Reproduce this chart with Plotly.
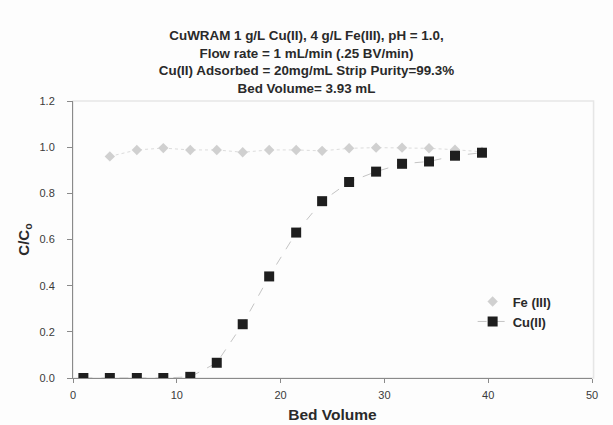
import plotly.graph_objects as go

# Bed volumes sampled (BV) and normalised effluent concentrations C/Co
cu_bv = [1.0, 3.55, 6.15, 8.7, 11.3, 13.85, 16.35, 18.9, 21.5, 24.0, 26.6, 29.2, 31.7, 34.3, 36.8, 39.4]
cu_c = [0.0, 0.0, 0.0, 0.0, 0.005, 0.066, 0.233, 0.44, 0.63, 0.766, 0.849, 0.894, 0.928, 0.938, 0.963, 0.976]

fe_bv = [3.55, 6.15, 8.7, 11.3, 13.85, 16.35, 18.9, 21.5, 24.0, 26.6, 29.2, 31.7, 34.3, 36.8, 39.4]
fe_c = [0.96, 0.988, 0.996, 0.988, 0.988, 0.978, 0.988, 0.988, 0.984, 0.995, 0.998, 0.998, 0.995, 0.989, 0.98]

title_lines = [
    "CuWRAM 1 g/L Cu(II), 4 g/L Fe(III), pH = 1.0,",
    "Flow rate = 1 mL/min (.25 BV/min)",
    "Cu(II) Adsorbed = 20mg/mL Strip Purity=99.3%",
    "Bed Volume= 3.93 mL",
]
x_ticks = [0, 10, 20, 30, 40, 50]
y_ticks = [0.0, 0.2, 0.4, 0.6, 0.8, 1.0, 1.2]

FONT = "Liberation Sans, Arial, sans-serif"

fig = go.Figure()
# Fe(III): faint dotted connector (kept out of the legend) + diamond markers
fig.add_trace(go.Scatter(
    x=fe_bv, y=fe_c, mode="lines", showlegend=False, hoverinfo="skip",
    line=dict(color="#dcdcdc", width=1, dash="dot"),
))
fig.add_trace(go.Scatter(
    x=fe_bv, y=fe_c, name="Fe (III)", mode="markers",
    marker=dict(symbol="diamond", size=8, color="#d0d0d0"),
))
fig.add_trace(go.Scatter(
    x=cu_bv, y=cu_c, name="Cu(II)", mode="lines+markers",
    line=dict(color="#c4c4c4", width=1, dash="dash"),
    marker=dict(symbol="square", size=10, color="#1e1e1e"),
))

fig.update_layout(
    width=613, height=425,
    margin=dict(l=73, r=21, t=101, b=47),
    paper_bgcolor="#fdfdfd",
    plot_bgcolor="#fdfdfd",
    font=dict(family=FONT, size=11, color="#3a3a3a"),
    title=dict(
        text="<b>" + "<br>".join(title_lines) + "</b>",
        x=0.5, xanchor="center", y=0.905, yanchor="top",
        font=dict(family=FONT, size=13.4, color="#2a2a2a"),
    ),
    showlegend=True,
    legend=dict(
        x=0.77, y=0.33, xanchor="left", yanchor="top",
        bgcolor="rgba(0,0,0,0)",
        font=dict(family=FONT, size=13, color="#2a2a2a", weight="bold"),
        tracegroupgap=0, itemwidth=30,
    ),
)
fig.update_xaxes(
    range=[0, 50], tickvals=x_ticks, ticktext=[str(v) for v in x_ticks],
    showgrid=False, zeroline=False, automargin=False,
    showline=True, linecolor="#8a8a8a", linewidth=1,
    ticks="outside", ticklen=4, tickcolor="#8a8a8a", ticklabelstandoff=3,
    title=dict(text="<b>Bed Volume</b>", font=dict(family=FONT, size=15.5, color="#2a2a2a"), standoff=8),
)
fig.update_yaxes(
    range=[0, 1.2], tickvals=y_ticks, ticktext=[f"{v:.1f}" for v in y_ticks],
    showgrid=False, zeroline=False, automargin=False,
    showline=True, linecolor="#8a8a8a", linewidth=1,
    ticks="outside", ticklen=5, tickcolor="#8a8a8a", ticklabelstandoff=10,
    title=dict(text="<b>C/C<sub>o</sub></b>", font=dict(family=FONT, size=15, color="#2a2a2a"), standoff=6),
)
# faint frame around the plotting area
fig.add_shape(type="rect", xref="paper", yref="paper", x0=0, y0=0, x1=1.003, y1=1.0,
              line=dict(color="#e6e6e6", width=1.5), layer="below")

fig.write_html("out.html")
